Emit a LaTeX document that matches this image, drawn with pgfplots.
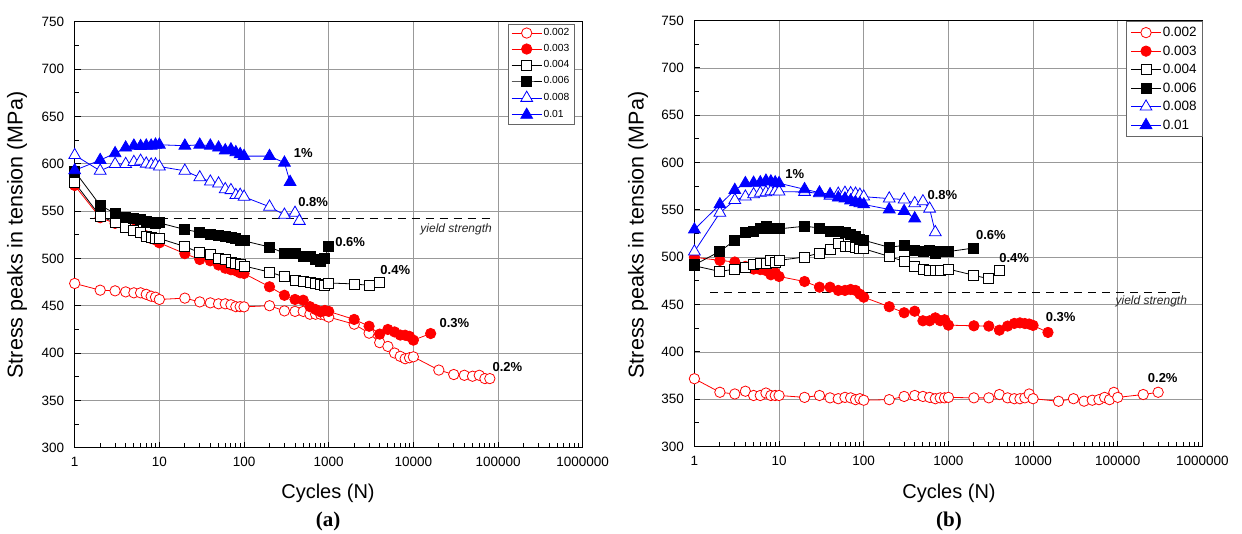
\documentclass[border=0pt]{standalone}
\usepackage{pgfplots}
\pgfplotsset{compat=1.18}
\usepackage{fontspec}
\setmainfont{Liberation Sans}
\newfontfamily\serifbf{Liberation Serif}

\tikzset{
  pct/.style={font=\bfseries\fontsize{13bp}{13bp}\selectfont},
  ylab/.style={font=\itshape\fontsize{12bp}{12bp}\selectfont, text=black!85, anchor=east},
}
\pgfplotsset{
  mybase/.style={
    scale only axis, width=508bp, height=426bp,
    xmin=1, xmax=1000000, ymin=300, ymax=750,
    xtick={1,10,100,1000,10000,100000,1000000},
    xticklabels={1,10,100,1000,10000,100000,1000000},
    minor xtick={2,3,4,5,6,7,8,9,20,30,40,50,60,70,80,90,200,300,400,500,600,700,800,900,2000,3000,4000,5000,6000,7000,8000,9000,20000,30000,40000,50000,60000,70000,80000,90000,200000,300000,400000,500000,600000,700000,800000,900000},
    ytick={300,350,...,750},
    minor ytick={325,375,...,725},
    grid=major, major grid style={black!40, line width=0.8bp},
    tick align=inside, xtick pos=bottom, ytick pos=left,
    major tick length=6bp, minor tick length=4.5bp,
    every tick/.style={black, line width=0.9bp},
    axis line style={line width=1.2bp},
    tick label style={font=\fontsize{13.5bp}{14bp}\selectfont},
    yticklabel style={xshift=-7bp},
    xticklabel style={yshift=-6bp},
    legend cell align=left,
    legend image code/.code={\draw[mark repeat=2,mark phase=2] plot coordinates {(0bp,0bp) (15bp,0bp) (30bp,0bp)};},
  },
  s002/.style={red, line width=0.8bp, mark=*, mark size=5.2bp, mark options={fill=white, draw=red, line width=0.8bp}},
  s003/.style={red, line width=0.8bp, mark=*, mark size=5.2bp, mark options={fill=red, draw=red}},
  s004/.style={black, line width=0.8bp, mark=square*, mark size=5bp, mark options={fill=white, draw=black, line width=0.8bp}},
  s006/.style={black, line width=0.8bp, mark=square*, mark size=5bp, mark options={fill=black, draw=black}},
  s008/.style={blue, line width=0.8bp, mark=triangle*, mark size=6.8bp, mark options={fill=white, draw=blue, line width=0.8bp}},
  s01/.style={blue, line width=0.8bp, mark=triangle*, mark size=6.8bp, mark options={fill=blue, draw=blue}},
  yld/.style={black, line width=1.3bp, dash pattern=on 8bp off 6bp},
}

\begin{document}
\begin{tikzpicture}
\useasboundingbox (0,0) rectangle (1242bp,-534bp);

% ---------------- panel (a) ----------------
\begin{semilogxaxis}[mybase, at={(74.7bp,-447.7bp)}, anchor=south west,
  /pgf/number format/assume math mode=true,
  legend style={at={(0.983,0.9946)}, anchor=north east, draw=black!60, fill=white,
    font=\fontsize{10.3bp}{11bp}\selectfont, row sep=4.3bp, inner sep=3bp,
    nodes={inner sep=1.5bp}}]
\addplot[s002] coordinates {(1,473.5) (2,466.4) (3,465.7) (4,464.6) (5,463.6) (6,463.6) (7,462) (8,460) (9,459) (10,456.6) (20,458) (30,454) (40,453) (50,452) (60,452) (70,451) (80,449) (90,449) (100,448.8) (200,450) (300,444.5) (400,444) (500,444) (600,441) (700,441) (800,441) (900,440) (1000,438) (2000,430.5) (3000,421) (4000,411) (5000,407) (6000,400) (7000,396.5) (8000,394) (9000,395) (10000,396) (20000,382) (30000,377.3) (40000,376.5) (50000,375.5) (60000,376.5) (70000,373) (80000,373)};
\addlegendentry{0.002}
\addplot[s003] coordinates {(1,577) (2,543) (3,537) (4,533.5) (5,530.6) (6,527) (7,523.7) (8,521) (9,519.5) (10,516.4) (20,505) (30,498.8) (40,497.4) (50,493) (60,489.6) (70,488) (80,487) (90,484.7) (100,484) (200,470) (300,461) (400,456.6) (500,455.8) (600,449) (700,446) (800,443.5) (900,445) (1000,444) (2000,435.5) (3000,428.3) (4000,420) (5000,424.9) (6000,422.3) (7000,419) (8000,418.8) (9000,417.6) (10000,413.6) (16000,420.6)};
\addlegendentry{0.003}
\addplot[s004] coordinates {(1,580) (2,544.6) (3,538) (4,532.6) (5,530) (6,527.5) (7,523.7) (8,522.5) (9,521) (10,521) (20,512.5) (30,506) (40,504) (50,500.3) (60,498.5) (70,496) (80,495) (90,494) (100,492) (200,485.5) (300,480.5) (400,477) (500,476) (600,475) (700,474) (800,472) (900,471) (1000,474) (2000,473) (3000,471.5) (4000,475)};
\addlegendentry{0.004}
\addplot[s006] coordinates {(1,592) (2,556) (3,547.5) (4,543) (5,542) (6,541) (7,539.5) (8,538) (9,537) (10,537.5) (20,530.5) (30,527.5) (40,525) (50,524) (60,523.5) (70,522) (80,521) (90,519.5) (100,518.5) (200,512) (300,505.5) (400,505) (500,502.3) (600,502) (700,499) (800,496.3) (900,500) (1000,513)};
\addlegendentry{0.006}
\addplot[s008] coordinates {(1,609) (2,592.5) (3,599.6) (4,599.6) (5,601.7) (6,603) (7,600) (8,599) (9,599) (10,597) (20,592.5) (30,585.5) (40,581) (50,579) (60,573) (70,572) (80,566.8) (90,567) (100,565) (200,554.5) (300,546) (400,548) (450,539.5)};
\addlegendentry{0.008}
\addplot[s01] coordinates {(1,593) (2,603.8) (3,611) (4,617) (5,619) (6,618.5) (7,619) (8,619) (9,620) (10,620) (20,619) (30,620) (40,619) (50,617) (60,614) (70,615) (80,612) (90,610) (100,608) (200,608) (300,601) (350,580.6)};
\addlegendentry{0.01}
\addplot[yld, forget plot] coordinates {(1.5,542) (85000,542)};
\node[ylab] at (axis cs:93000,530.6) {yield strength};
\node[pct] at (axis cs:500,611) {1\%};
\node[pct] at (axis cs:656,559.4) {0.8\%};
\node[pct] at (axis cs:1795,517) {0.6\%};
\node[pct] at (axis cs:6110,487.6) {0.4\%};
\node[pct] at (axis cs:30500,431.5) {0.3\%};
\node[pct] at (axis cs:128800,385) {0.2\%};
\end{semilogxaxis}

% ---------------- panel (b) ----------------
\begin{semilogxaxis}[mybase, at={(694.4bp,-446.6bp)}, anchor=south west,
  /pgf/number format/assume math mode=true,
  legend style={at={(1,0.998)}, anchor=north east, draw=black!60, fill=white,
    font=\fontsize{13.5bp}{14bp}\selectfont, row sep=4.6bp, inner sep=4bp,
    nodes={inner sep=1.5bp}}]
\addplot[s002] coordinates {(1,371.7) (2,357.4) (3,355.6) (4,358.5) (5,354) (6,354) (7,356.6) (8,354) (9,354) (10,354) (20,352) (30,354) (40,351.5) (50,350.6) (60,352) (70,351.5) (80,349.6) (90,350.6) (100,349) (200,349.6) (300,353) (400,354) (500,353) (600,352) (700,350.6) (800,351.5) (900,351.5) (1000,352) (2000,351.5) (3000,351.5) (4000,355) (5000,351.5) (6000,350.6) (7000,350.6) (8000,351.5) (9000,355.6) (10000,350.6) (20000,347.9) (30000,350.6) (40000,348) (50000,349) (60000,349.6) (70000,352) (80000,349.6) (90000,357.3) (100000,352) (200000,355) (300000,357.4)};
\addlegendentry{0.002}
\addplot[s003] coordinates {(1,500) (2,496.7) (3,495) (4,490.3) (5,487.5) (6,487) (7,486) (8,481.5) (9,483.6) (10,479.7) (20,474.4) (30,468.4) (40,468.4) (50,465) (60,465) (70,466) (80,465) (90,461) (100,457.8) (200,447.8) (300,441.4) (400,443) (500,432.9) (600,432.9) (700,436) (800,433) (900,434) (1000,428.3) (2000,427.6) (3000,427.3) (4000,423) (5000,427.3) (6000,430.1) (7000,430.7) (8000,430) (9000,429.5) (10000,428) (15000,420.6)};
\addlegendentry{0.003}
\addplot[s004] coordinates {(1,491) (2,485) (3,487.5) (4,489.8) (5,492) (6,493) (7,493) (8,497) (9,495) (10,496.7) (20,500.3) (30,504.5) (40,508.8) (50,515) (60,511.5) (70,511.5) (80,510) (90,509) (100,509) (200,500.9) (300,495.6) (400,490.3) (500,487) (600,486.6) (700,486.6) (800,486.6) (1000,487.5) (2000,481) (3000,477.2) (4000,486)};
\addlegendentry{0.004}
\addplot[s006] coordinates {(1,492) (2,506.2) (3,518) (4,526.4) (5,527) (6,531) (7,533) (8,531) (9,531) (10,530) (20,532.8) (30,531) (40,527.8) (50,527.8) (60,526) (70,524) (80,522) (90,519) (100,518) (200,510.5) (300,512.6) (400,507.3) (500,506) (600,507) (700,503.8) (800,506) (900,506) (1000,506) (2000,509.8)};
\addlegendentry{0.006}
\addplot[s008] coordinates {(1,506) (2,547) (3,560.4) (4,564) (5,566.5) (6,568) (7,568.5) (8,569.6) (9,569.6) (10,569.3) (20,569) (30,567.5) (40,565) (50,567) (60,568) (70,567.5) (80,567) (90,566) (100,564) (200,562) (300,561) (400,557) (500,559) (600,551.3) (700,526.4)};
\addlegendentry{0.008}
\addplot[s01] coordinates {(1,529.3) (2,555.8) (3,571) (4,578.2) (5,578.6) (6,579) (7,580.8) (8,580) (9,579) (10,578.2) (20,571.8) (30,568.3) (40,566.5) (50,563) (60,562) (70,560) (80,558) (90,557) (100,555.8) (200,550.5) (300,548.8) (400,541)};
\addlegendentry{0.01}
\addplot[yld, forget plot] coordinates {(1.53,463) (630000,463)};
\node[ylab] at (axis cs:724000,453.8) {yield strength};
\node[pct] at (axis cs:15.3,587.7) {1\%};
\node[pct] at (axis cs:848,565.8) {0.8\%};
\node[pct] at (axis cs:3175,524) {0.6\%};
\node[pct] at (axis cs:5970,499.2) {0.4\%};
\node[pct] at (axis cs:21200,437) {0.3\%};
\node[pct] at (axis cs:340000,372.7) {0.2\%};
\end{semilogxaxis}

% ---------------- labels ----------------
\node[rotate=90, font=\fontsize{21.5bp}{21.5bp}\selectfont] at (17bp,-235bp) {Stress peaks in tension (MPa)};
\node[rotate=90, font=\fontsize{21.5bp}{21.5bp}\selectfont] at (638bp,-235bp) {Stress peaks in tension (MPa)};
\node[font=\fontsize{20bp}{20bp}\selectfont] at (328bp,-493bp) {Cycles (N)};
\node[font=\fontsize{20bp}{20bp}\selectfont] at (949bp,-493bp) {Cycles (N)};
\node[font=\serifbf\bfseries\fontsize{21bp}{21bp}\selectfont] at (328bp,-521bp) {(a)};
\node[font=\serifbf\bfseries\fontsize{21bp}{21bp}\selectfont] at (949bp,-521bp) {(b)};
\end{tikzpicture}
\end{document}
